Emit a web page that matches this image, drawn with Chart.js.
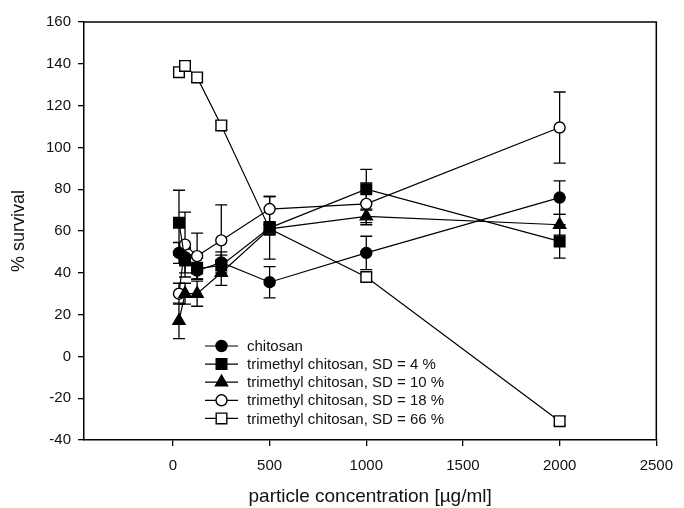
<!DOCTYPE html>
<html lang="en">
<head>
    <meta charset="UTF-8">
    <title>% survival vs particle concentration</title>
    <script src="https://cdn.jsdelivr.net/npm/chart.js"></script>
    <style>
        body {
            margin: 0;
            background: #fff;
        }
        #wrap {
            width: 684px;
            height: 508px;
        }
    </style>
</head>
<body>
    <div id="wrap">
        <canvas id="survival-chart" width="684" height="508"></canvas>
    </div>

    <script>
        // x values (µg/ml) shared by all series
        const concentrations = [31.25, 62.5, 125, 250, 500, 1000, 2000];

        const seriesLabels = [
            "chitosan",
            "trimethyl chitosan, SD = 4 %",
            "trimethyl chitosan, SD = 10 %",
            "trimethyl chitosan, SD = 18 %",
            "trimethyl chitosan, SD = 66 %"
        ];

        // % survival
        const chitosan = [49.5, 47.5, 41, 45, 35.5, 49.5, 76];
        const tmc4 = [64, 46, 42, 43.5, 61.5, 80, 55];
        const tmc10 = [17, 30, 30, 40, 61, 67, 63];
        const tmc18 = [30, 53.5, 48, 55.5, 70.5, 73, 109.5];
        const tmc66 = [136, 139, 133.5, 110.5, 61, 38, -31];

        // error bar half heights
        const chitosanErr = [5, 4, 4, 5, 7.5, 8, 8];
        const tmc4Err = [15.5, 6, 5, 5, 15, 9.5, 8];
        const tmc10Err = [8.5, 5, 6, 6, 3, 3, 5];
        const tmc18Err = [5, 15.5, 11, 17, 6, 10, 17];
        const tmc66Err = [2, 2, 2, 2, 2, 2, 2];

        const xTicks = [0, 500, 1000, 1500, 2000, 2500];
        const yTicks = [-40, -20, 0, 20, 40, 60, 80, 100, 120, 140, 160];

        const allValues = [chitosan, tmc4, tmc10, tmc18, tmc66];
        const allErrors = [chitosanErr, tmc4Err, tmc10Err, tmc18Err, tmc66Err];
        const markers = [
            { style: "circle", radius: 5.5, fill: "#000" },
            { style: "rect", radius: 7.5, fill: "#000" },
            { style: "triangle", radius: 7, fill: "#000" },
            { style: "circle", radius: 5.5, fill: "#fff" },
            { style: "rect", radius: 7.5, fill: "#fff" }
        ];

        const datasets = allValues.map((vals, i) => ({
            label: seriesLabels[i],
            data: concentrations.map((c, j) => ({ x: c, y: vals[j] })),
            borderColor: "#000",
            borderWidth: 1.2,
            pointStyle: markers[i].style,
            pointRadius: markers[i].radius,
            pointBackgroundColor: markers[i].fill,
            pointBorderColor: "#000",
            pointBorderWidth: 1.4,
            fill: false,
            tension: 0
        }));

        // error bars under the markers
        const errorBars = {
            id: "errorBars",
            beforeDatasetsDraw(chart) {
                const { ctx, scales: { x, y } } = chart;
                ctx.save();
                ctx.strokeStyle = "#000";
                ctx.lineWidth = 1.3;
                allValues.forEach((vals, i) => {
                    vals.forEach((v, j) => {
                        const e = allErrors[i][j];
                        if (!e) return;
                        const px = x.getPixelForValue(concentrations[j]);
                        const top = y.getPixelForValue(v + e);
                        const bot = y.getPixelForValue(v - e);
                        ctx.beginPath();
                        ctx.moveTo(px, top);
                        ctx.lineTo(px, bot);
                        ctx.moveTo(px - 6, top);
                        ctx.lineTo(px + 6, top);
                        ctx.moveTo(px - 6, bot);
                        ctx.lineTo(px + 6, bot);
                        ctx.stroke();
                    });
                });
                ctx.restore();
            }
        };

        // box around plot + legend inside the lower left corner
        const frameAndLegend = {
            id: "frameAndLegend",
            afterDraw(chart) {
                const { ctx, chartArea: a } = chart;
                ctx.save();
                ctx.strokeStyle = "#000";
                ctx.lineWidth = 1.5;
                ctx.beginPath();
                ctx.moveTo(a.left, a.top);
                ctx.lineTo(a.right, a.top);
                ctx.lineTo(a.right, a.bottom);
                ctx.stroke();

                const x0 = a.left + 121;
                const y0 = a.top + 324;
                ctx.font = "15px 'Liberation Sans', Arial, sans-serif";
                ctx.textBaseline = "middle";
                seriesLabels.forEach((lab, i) => {
                    const yy = y0 + i * 18.1;
                    ctx.strokeStyle = "#000";
                    ctx.lineWidth = 1.2;
                    ctx.beginPath();
                    ctx.moveTo(x0, yy);
                    ctx.lineTo(x0 + 33, yy);
                    ctx.stroke();
                    ctx.fillStyle = markers[i].fill;
                    ctx.lineWidth = 1.4;
                    Chart.helpers.drawPoint(ctx, {
                        pointStyle: markers[i].style,
                        radius: markers[i].radius,
                        borderWidth: 1.4
                    }, x0 + 16.5, yy);
                    ctx.fillStyle = "#111";
                    ctx.fillText(lab, x0 + 42, yy + 1);
                });
                ctx.restore();
            }
        };

        const ctx = document.getElementById("survival-chart").getContext("2d");

        const chart = new Chart(ctx, {
            type: "line",
            data: { datasets: datasets },
            options: {
                responsive: false,
                animation: false,
                devicePixelRatio: 1,
                layout: { padding: { top: 22, right: 18, left: 0, bottom: 0 } },
                plugins: {
                    legend: { display: false },
                    tooltip: { enabled: false }
                },
                scales: {
                    x: {
                        type: "linear",
                        min: -460,
                        max: 2500,
                        afterBuildTicks: s => { s.ticks = xTicks.map(v => ({ value: v })); },
                        afterFit: s => { s.height = 68; },
                        grid: { drawOnChartArea: false, drawTicks: true, tickLength: 6, color: "#000", lineWidth: 1.3 },
                        border: { color: "#000", width: 1.5 },
                        ticks: {
                            color: "#111",
                            padding: 11,
                            maxRotation: 0,
                            callback: v => String(v),
                            font: { family: "'Liberation Sans', Arial, sans-serif", size: 15 }
                        },
                        title: {
                            display: true,
                            text: "particle concentration [µg/ml]",
                            color: "#111",
                            padding: { top: 0, bottom: 0 },
                            font: { family: "'Liberation Sans', Arial, sans-serif", size: 19 }
                        }
                    },
                    y: {
                        min: -40,
                        max: 160,
                        afterBuildTicks: s => { s.ticks = yTicks.map(v => ({ value: v })); },
                        afterFit: s => { s.width = 84; },
                        grid: { drawOnChartArea: false, drawTicks: true, tickLength: 6, color: "#000", lineWidth: 1.3 },
                        border: { color: "#000", width: 1.5 },
                        ticks: {
                            color: "#111",
                            padding: 7,
                            callback: v => String(v),
                            font: { family: "'Liberation Sans', Arial, sans-serif", size: 15 }
                        },
                        title: {
                            display: true,
                            text: "% survival",
                            color: "#111",
                            padding: { top: 8, bottom: 0 },
                            font: { family: "'Liberation Sans', Arial, sans-serif", size: 18 }
                        }
                    }
                }
            },
            plugins: [errorBars, frameAndLegend]
        });
    </script>
</body>
</html>
